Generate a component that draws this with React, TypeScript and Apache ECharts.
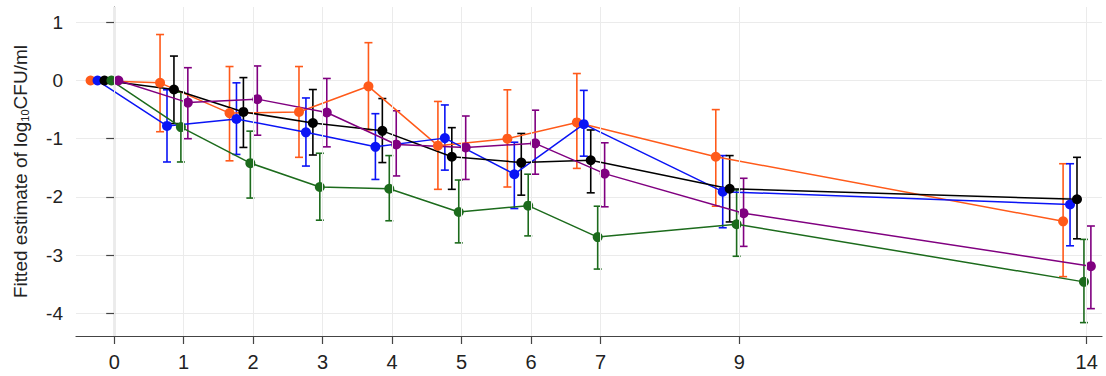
import React, { useEffect, useRef } from "react";
import * as echarts from "echarts";

const times = [0, 1, 2, 3, 4, 5, 6, 7, 9, 14];
const xTicks = [0, 1, 2, 3, 4, 5, 6, 7, 9, 14];
const yTicks = [-4, -3, -2, -1, 0, 1];

const orangeMean = [0, -0.04, -0.56, -0.54, -0.1, -1.12, -1.0, -0.72, -1.31, -2.42];
const orangeUpper = [0, 0.79, 0.24, 0.24, 0.65, -0.36, -0.16, 0.12, -0.5, -1.43];
const orangeLower = [0, -0.88, -1.38, -1.32, -0.85, -1.87, -1.83, -1.51, -2.16, -3.37];

const blueMean = [0, -0.78, -0.66, -0.89, -1.14, -0.99, -1.61, -0.75, -1.91, -2.13];
const blueUpper = [0, -0.16, -0.04, -0.3, -0.57, -0.42, -1.06, -0.17, -1.29, -1.43];
const blueLower = [0, -1.4, -1.27, -1.47, -1.7, -1.54, -2.2, -1.3, -2.53, -2.84];

const blackMean = [0, -0.155, -0.54, -0.73, -0.865, -1.31, -1.41, -1.37, -1.86, -2.04];
const blackUpper = [0, 0.42, 0.05, -0.155, -0.31, -0.81, -0.91, -0.85, -1.29, -1.32];
const blackLower = [0, -0.74, -1.15, -1.28, -1.41, -1.87, -1.97, -1.93, -2.43, -2.72];

const greenMean = [0, -0.8, -1.42, -1.83, -1.86, -2.26, -2.15, -2.69, -2.47, -3.46];
const greenUpper = [0, -0.2, -0.87, -1.25, -1.29, -1.71, -1.61, -2.16, -1.88, -2.73];
const greenLower = [0, -1.4, -2.02, -2.4, -2.41, -2.79, -2.67, -3.24, -3.02, -4.16];

const purpleMean = [0, -0.38, -0.32, -0.55, -1.1, -1.15, -1.08, -1.6, -2.28, -3.19];
const purpleUpper = [0, 0.22, 0.25, 0.035, -0.52, -0.61, -0.51, -1.07, -1.68, -2.5];
const purpleLower = [0, -1.0, -0.94, -1.14, -1.64, -1.7, -1.61, -2.17, -2.85, -3.92];

const groups = [
  { name: "orange", color: "#FF5A1A", offset: -0.34, mean: orangeMean, upper: orangeUpper, lower: orangeLower },
  { name: "blue", color: "#0A14F5", offset: -0.24, mean: blueMean, upper: blueUpper, lower: blueLower },
  { name: "black", color: "#000000", offset: -0.14, mean: blackMean, upper: blackUpper, lower: blackLower },
  { name: "green", color: "#1C6B1C", offset: -0.04, mean: greenMean, upper: greenUpper, lower: greenLower },
  { name: "purple", color: "#800080", offset: 0.06, mean: purpleMean, upper: purpleUpper, lower: purpleLower },
];

const FONT = "'Liberation Sans', Arial, sans-serif";
const GRID_COLOR = "#ebebeb";

export default function App() {
  const ref = useRef<HTMLDivElement>(null);
  useEffect(() => {
    if (!ref.current) return;
    const chart = echarts.init(ref.current, null, { renderer: "svg" });
    const series: any[] = [];
    series.push({
      type: "line",
      name: "grid",
      data: [],
      silent: true,
      z: 1,
      markLine: {
        silent: true,
        symbol: "none",
        label: { show: false },
        lineStyle: { color: GRID_COLOR, width: 1, type: "solid" },
        data: xTicks.map((v) => ({ xAxis: v })),
      },
    });
    groups.forEach((g) => {
      const errData = times
        .map((t, i) => [t + g.offset, g.lower[i], g.upper[i]])
        .filter((d) => d[1] !== d[2]);
      series.push({
        type: "custom",
        name: g.name + "-err",
        data: errData,
        encode: { x: 0, y: [1, 2] },
        z: 2,
        renderItem: (params: any, api: any) => {
          const x = api.value(0);
          const lo = api.value(1);
          const hi = api.value(2);
          const top = api.coord([x, hi]);
          const bot = api.coord([x, lo]);
          const w = 4;
          const style = { stroke: g.color, lineWidth: 1.6 };
          return {
            type: "group",
            children: [
              { type: "line", shape: { x1: top[0], y1: top[1], x2: bot[0], y2: bot[1] }, style },
              { type: "line", shape: { x1: top[0] - w, y1: top[1], x2: top[0] + w, y2: top[1] }, style },
              { type: "line", shape: { x1: bot[0] - w, y1: bot[1], x2: bot[0] + w, y2: bot[1] }, style },
            ],
          };
        },
      });
    });
    groups.forEach((g) => {
      series.push({
        type: "line",
        name: g.name,
        data: times.map((t, i) => [t + g.offset, g.mean[i]]),
        symbol: "circle",
        symbolSize: 10,
        z: 3,
        lineStyle: { color: g.color, width: 1.5 },
        itemStyle: { color: g.color },
      });
    });
    chart.setOption({
      animation: false,
      grid: { left: 76, right: 4, top: 7, bottom: 40, containLabel: false },
      xAxis: {
        type: "value",
        min: -0.55,
        max: 14.22,
        axisLine: { show: true, onZero: false, lineStyle: { color: "#444", width: 1.2 } },
        axisTick: { show: true, customValues: xTicks, length: 8, lineStyle: { color: "#444", width: 1.2 } },
        axisLabel: { customValues: xTicks, fontSize: 20, color: "#222", fontFamily: FONT, margin: 16 },
        splitLine: { show: false },
      },
      yAxis: {
        type: "value",
        min: -4.39,
        max: 1.263,
        name: "Fitted estimate of log{sub|10}CFU/ml",
        nameLocation: "middle",
        nameGap: 46,
        nameTextStyle: {
          fontSize: 19,
          color: "#222",
          fontFamily: FONT,
          rich: {
            sub: { fontSize: 11, fontFamily: FONT, color: "#222", verticalAlign: "bottom", padding: [8, 0, 0, 0] },
          },
        },
        axisLine: { show: true, lineStyle: { color: "#444", width: 1.2 } },
        axisTick: { show: true, customValues: yTicks, length: 8, lineStyle: { color: "#444", width: 1.2 } },
        axisLabel: { customValues: yTicks, fontSize: 19, color: "#222", fontFamily: FONT, margin: 13 },
        splitLine: { show: true, lineStyle: { color: GRID_COLOR, width: 1 } },
      },
      series,
    });
    return () => chart.dispose();
  }, []);
  return <div ref={ref} style={{ position: "fixed", left: 0, top: 0, width: 1106, height: 376, background: "#fff" }} />;
}
